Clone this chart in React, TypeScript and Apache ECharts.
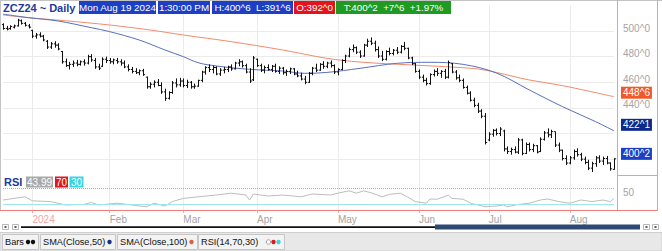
import React, { useEffect, useRef } from "react";
import * as echarts from "echarts";

const FONT = "'Liberation Sans', Arial, Helvetica, sans-serif";

// ---- trading days (categories) ----
const dec23 = [19, 20, 21, 22, 26, 27, 28, 29];
const jan24 = [2, 3, 4, 5, 8, 9, 10, 11, 12, 16, 17, 18, 19, 22, 23, 24, 25, 26, 29, 30, 31];
const feb24 = [1, 2, 5, 6, 7, 8, 9, 12, 13, 14, 15, 16, 20, 21, 22, 23, 26, 27, 28, 29];
const mar24 = [1, 4, 5, 6, 7, 8, 11, 12, 13, 14, 15, 18, 19, 20, 21, 22, 25, 26, 27, 28];
const apr24 = [1, 2, 3, 4, 5, 8, 9, 10, 11, 12, 15, 16, 17, 18, 19, 22, 23, 24, 25, 26, 29, 30];
const may24 = [1, 2, 3, 6, 7, 8, 9, 10, 13, 14, 15, 16, 17, 20, 21, 22, 23, 24, 28, 29, 30, 31];
const jun24 = [3, 4, 5, 6, 7, 10, 11, 12, 13, 14, 17, 18, 20, 21, 24, 25, 26, 27, 28];
const jul24 = [1, 2, 3, 5, 8, 9, 10, 11, 12, 15, 16, 17, 18, 19, 22, 23, 24, 25, 26, 29, 30, 31];
const aug24 = [1, 2, 5, 6, 7, 8, 9, 12, 13, 14, 15, 16, 19];

const monthNames = ["Jan", "Feb", "Mar", "Apr", "May", "Jun", "Jul", "Aug", "Sep", "Oct", "Nov", "Dec"];
const dayNames = ["Sun", "Mon", "Tue", "Wed", "Thu", "Fri", "Sat"];

// ---- OHLC (cents/bushel) ----
const opens = [
  505, 502, 502, 503, 504, 508, 506, 504, 500.5, 496,
  497, 496, 492, 487.5, 490, 489, 484, 476, 473, 474,
  475, 474, 476, 475, 480, 477, 472, 472.5, 478, 477,
  476, 477, 476, 475, 472, 470, 468.5, 467.5, 469, 464,
  456.5, 458.5, 460, 457.5, 452.5, 447.5, 452, 459.5, 458, 461,
  457.5, 460, 456.5, 457, 461.5, 468, 471.5, 470, 471.5, 466.5,
  469.5, 470, 472, 470.5, 475, 476, 473, 468, 462, 478,
  473, 469.5, 471.5, 470, 472.5, 468.5, 471, 467.5, 468.5, 470.5,
  466.5, 465, 462.5, 460, 467, 471, 469.5, 474, 472.5, 475,
  473, 468, 470, 477, 480.5, 485.5, 487, 483.5, 480.5, 489,
  492, 490.5, 485.5, 480.5, 478, 484, 482.5, 485, 483.5, 488,
  486.5, 479, 474.5, 468.5, 464, 461.5, 459, 466, 468.5, 467,
  468.5, 464, 474.5, 468, 463.5, 461.5, 456, 451.5, 446, 442,
  437.5, 433.5, 415, 419.5, 422.5, 420, 422, 408, 406, 407.5,
  405.5, 415, 404.5, 411.5, 407.5, 410.5, 406, 415.5, 420.5, 419,
  421.5, 411, 407, 400.5, 397, 401, 406, 403.5, 400, 397.5,
  393, 396.5, 401, 398.5, 400.5, 397, 392,
];
const highs = [
  506, 504, 504.5, 505, 509.5, 509, 507, 505.5, 501, 498.5,
  499, 497, 493, 491.5, 492, 490.5, 484.5, 478.5, 476, 477,
  477.5, 477, 478, 481.5, 482, 479, 474.5, 479.5, 480, 479,
  478.5, 479, 478, 477, 474, 472, 471, 470, 470.5, 464.5,
  460, 461.5, 462.5, 460, 455, 453, 461, 463, 463.5, 463,
  462, 461, 459, 462, 469, 472.5, 474, 473, 472.5, 471,
  472, 473, 474, 476, 478, 477, 474.5, 471, 480.5, 478.5,
  474.5, 473, 474, 473.5, 474.5, 472.5, 472, 470, 471.5, 471,
  469, 467.5, 465, 468, 472, 474.5, 475, 476.5, 476, 477,
  474, 471, 478, 481.5, 487, 489.5, 488, 485, 490, 494,
  495, 492.5, 488, 484.5, 485, 487, 486, 487.5, 489, 491.5,
  487, 480, 475, 470, 466, 463.5, 467, 470, 471, 469.5,
  470.5, 477, 475, 469.5, 466, 463, 457.5, 453, 448, 444,
  439, 436, 421, 423.5, 424, 425, 423, 410, 409, 410,
  416.5, 416, 413, 413, 412, 411, 417, 422, 424, 423,
  421.5, 413, 407.5, 403, 402.5, 407.5, 408.5, 405, 402, 399.5,
  398, 402.5, 403, 402, 402.5, 397.5, 400.75,
];
const lows = [
  501, 500.5, 501, 502, 503.5, 505, 503.5, 502, 494.5, 494,
  495, 492, 486, 486, 487, 485, 474.5, 472, 470, 472,
  472.5, 473, 473, 474, 476, 470.5, 469.5, 472, 475, 474.5,
  474, 474.5, 473, 471, 468.5, 467, 466.5, 465.5, 465, 455,
  455, 456, 457, 451, 445.5, 446.5, 451, 456, 456.5, 456,
  455.5, 455, 455, 456.5, 460, 466, 468, 467, 465.5, 465,
  467, 468, 469, 470, 472.5, 471.5, 467, 459.5, 461, 472,
  468, 467, 469, 468, 467.5, 466.5, 466, 465, 466.5, 465.5,
  464, 461.5, 458.5, 459.5, 465.5, 468, 469, 470.5, 471, 471.5,
  466.5, 465.5, 469.5, 475, 479.5, 483.5, 482, 479, 480, 487.5,
  489, 484, 479, 476.5, 477, 481, 481, 482, 482.5, 485,
  478, 473.5, 467.5, 462.5, 460, 457.5, 458, 464.5, 465, 463.5,
  462.5, 463, 467, 462, 460, 455, 450.5, 445, 440.5, 436,
  432, 411.5, 414, 417.5, 418.5, 418, 406, 404, 403.5, 404.5,
  404, 403, 404, 406, 405.5, 404.5, 405.5, 414.5, 417, 416.5,
  409.5, 405.5, 399, 395.5, 396, 399.5, 402, 398.5, 396, 391.5,
  390, 394, 397, 395.5, 396, 391, 391.75,
];
const closes = [
  502, 501.5, 503.5, 504, 508.5, 506, 504.5, 503, 496, 497,
  496, 493, 487.5, 490, 489, 486, 476, 473, 474, 475,
  474, 476, 475, 480, 477.5, 472, 471, 478, 477, 476,
  477.5, 476, 475, 472, 470, 468.5, 467.5, 469, 466, 456.5,
  458.5, 460, 457.5, 452.5, 447.5, 452, 459.5, 458, 461, 457.5,
  460, 456.5, 457, 461.5, 468, 471.5, 470, 471.5, 466.5, 469.5,
  470, 472, 470.5, 475, 476, 473, 468, 461, 479, 473,
  469.5, 471.5, 470, 472.5, 468.5, 471, 467.5, 468.5, 470.5, 466.5,
  465, 462.5, 460, 467, 471, 469.5, 474, 472.5, 475, 473,
  468, 470, 477, 480.5, 485.5, 487, 483.5, 480.5, 489, 492,
  490.5, 485.5, 480.5, 478, 484, 482.5, 485, 483.5, 488, 486.5,
  479, 474.5, 468.5, 464, 461.5, 459, 466, 468.5, 467, 468.5,
  464, 475.5, 468, 463.5, 461.5, 456, 451.5, 446, 442, 437.5,
  433.5, 413, 419.5, 422.5, 420, 423.5, 408, 406, 407.5, 405.5,
  415, 404.5, 411.5, 407.5, 410.5, 405.5, 415.5, 420.5, 419, 421.5,
  411, 407, 400.5, 397, 401, 406, 403.5, 400, 397.5, 393,
  396.5, 401, 398.5, 400.5, 397, 392.5, 400.25,
];

// ---- moving averages: [day index, value] ----
const sma50 = [
  [0, 513.2], [7, 510.4], [15, 507.8], [24, 502.6], [29, 499.5], [37, 493], [44, 485.2],
  [49, 480], [53, 475.3], [58, 472.7], [67, 470.1], [76, 468.8], [82, 467], [88, 467.7],
  [97, 470.9], [107, 474.8], [116, 475.6], [125, 474], [134, 467.3], [143, 454],
  [152, 441], [161, 429.3], [166, 422.125],
];
const sma100 = [
  [0, 512.5], [7, 510.4], [17, 508], [29, 504.7], [40, 500.8], [49, 496.9], [62, 491.7],
  [76, 485.2], [88, 478.7], [97, 475.8], [111, 473.5], [120, 472.2], [129, 470.4],
  [134, 467.7], [143, 461.8], [152, 457.4], [166, 448.75],
];

// ---- RSI(14): [day index, value] ----
const rsi = [
  [0, 40], [3, 44], [6, 48], [8, 38], [13, 36], [17, 27.5], [22, 29], [24, 34], [26, 27.5],
  [31, 32], [35, 27.5], [39, 23], [41, 32], [44, 25], [46, 36], [49, 44], [53, 48],
  [58, 52.5], [62, 57], [66, 52.5], [67, 40], [68, 55], [72, 50], [76, 52.5], [81, 48],
  [84, 55], [89, 52.5], [91, 57], [94, 63], [96, 57], [98, 63], [100, 58], [103, 48],
  [105, 54], [108, 57], [110, 47], [112, 36], [115, 32], [116, 42.5], [118, 42], [121, 52],
  [122, 44], [125, 42], [127, 32], [131, 23], [134, 25], [136, 27.5], [137, 23], [140, 29],
  [143, 32], [146, 40], [148, 42.5], [151, 36], [154, 32], [157, 40], [160, 36], [163, 40],
  [165, 36], [166, 43.99],
];
const rsiUpper = 70;
const rsiLower = 30;

// axis labels visible (400 and 420 sit under the last-value boxes)
const priceTicks = [440, 460, 480, 500];

// ---- derived ----
const blocks = [
  { y: 2023, m: 12, days: dec23 },
  { y: 2024, m: 1, days: jan24 },
  { y: 2024, m: 2, days: feb24 },
  { y: 2024, m: 3, days: mar24 },
  { y: 2024, m: 4, days: apr24 },
  { y: 2024, m: 5, days: may24 },
  { y: 2024, m: 6, days: jun24 },
  { y: 2024, m: 7, days: jul24 },
  { y: 2024, m: 8, days: aug24 },
];
const pad = (n: number) => (n < 10 ? "0" + n : "" + n);
const categories: string[] = [];
const monthStart: Record<number, string> = {};
blocks.forEach((b, bi) => {
  b.days.forEach((d, di) => {
    if (di === 0 && bi > 0) monthStart[categories.length] = b.m === 1 ? String(b.y) : monthNames[b.m - 1];
    categories.push(`${b.y}-${pad(b.m)}-${pad(d)}`);
  });
});
const isMonthStart = (i: number) => monthStart[i] !== undefined;

const fmt8 = (v: number) => {
  const w = Math.floor(v + 1e-9);
  const e = Math.round((v - w) * 8);
  return `${w}^${e}`;
};

const N = closes.length;
const lastO = opens[N - 1];
const lastH = highs[N - 1];
const lastL = lows[N - 1];
const lastC = closes[N - 1];
const prevC = closes[N - 2];
const chg = lastC - prevC;
const pct = ((chg / prevC) * 100).toFixed(2);
const lastDate = categories[N - 1];
const [ly, lm, ld] = lastDate.split("-").map(Number);
const dateText = `${dayNames[new Date(Date.UTC(ly, lm - 1, ld)).getUTCDay()]} ${monthNames[lm - 1]} ${ld} ${ly}`;

const ohlcData = closes.map((c, i) => [i, opens[i], highs[i], lows[i], c]);
const closeLine = closes.map((c, i) => [i, c]);

const BLUE = "#1d3fc6";
const NAVY = "#0b2a8a";
const RED = "#e3141b";
const GREEN = "#1f9a22";
const ORANGE = "#f2592a";
const PINK = "#f29a9a";
const GRID = "#ebebeb";
const LABEL = "#a4a4a4";

function buildGraphics() {
  const els: any[] = [];
  const rect = (x: number, y: number, w: number, h: number, fill: string, stroke?: string, z = 100) => ({
    type: "rect",
    silent: true,
    z,
    shape: { x, y, width: w, height: h },
    style: { fill, stroke: stroke || null, lineWidth: stroke ? 1 : 0 },
  });
  const txt = (x: number, y: number, t: string, o: any = {}, z = 101) => ({
    type: "text",
    silent: true,
    z,
    x,
    y,
    style: {
      text: t,
      fontFamily: FONT,
      fontSize: 10,
      fill: "#fff",
      align: "center",
      verticalAlign: "middle",
      ...o,
    },
  });
  const ln = (x1: number, y1: number, x2: number, y2: number, stroke: string, lw = 1, z = 90) => ({
    type: "line",
    silent: true,
    z,
    shape: { x1, y1, x2, y2 },
    style: { stroke, lineWidth: lw },
  });

  // frame lines
  els.push(ln(0, 0.5, 662, 0.5, "#c4c4c4"));
  els.push(ln(0.5, 0, 0.5, 211, "#c4c4c4"));
  els.push(ln(617.5, 0, 617.5, 211, PINK));
  els.push(ln(657.5, 0, 657.5, 211, PINK));
  els.push(ln(618, 175.5, 657, 175.5, PINK));
  els.push(ln(0, 210.5, 657.5, 210.5, "#f07c7c"));

  // header
  els.push(txt(3, 7.5, "ZCZ24 ~ Daily", { fill: "#1c3a9c", fontWeight: "bold", fontSize: 11, align: "left" }));
  const boxes = [
    { x: 79, w: 77, fill: BLUE, t: dateText },
    { x: 158, w: 52, fill: BLUE, t: "1:30:00 PM" },
    { x: 212, w: 81, fill: BLUE, t: `H:${fmt8(lastH)}  L:${fmt8(lastL)}` },
    { x: 294, w: 41, fill: RED, t: `O:${fmt8(lastO)}` },
    { x: 336, w: 115, fill: GREEN, t: `T:${fmt8(lastC)}  +${fmt8(chg)}  +${pct}%` },
  ];
  boxes.forEach((b) => {
    els.push(rect(b.x, 1, b.w, 13, b.fill));
    els.push(txt(b.x + b.w / 2, 7.8, b.t, { fontSize: 9.8 }));
  });

  // RSI header
  const rsiLast = rsi[rsi.length - 1][1];
  els.push(txt(4, 182, "RSI", { fill: "#1c3a9c", fontWeight: "bold", fontSize: 11, align: "left" }));
  els.push(rect(26, 176.5, 27, 11, "#a9a9a9"));
  els.push(txt(39.5, 182.2, rsiLast.toFixed(2)));
  els.push(rect(55, 176.5, 13, 11, "#e3141b"));
  els.push(txt(61.5, 182.2, String(rsiUpper)));
  els.push(rect(69.5, 176.5, 14, 11, "#37d4e6"));
  els.push(txt(76.5, 182.2, String(rsiLower)));

  // scrollbar
  els.push(rect(2.5, 224.5, 6, 5, "#fff", "#b8b8b8"));
  els.push(rect(4.5, 226.2, 2, 1.6, "#333"));
  els.push(rect(12.5, 224.5, 6, 5, "#fff", "#b8b8b8"));
  els.push(rect(14.5, 226.2, 2, 1.6, "#333"));
  els.push(rect(21, 226.3, 414, 1.6, "#111"));
  els.push(rect(435, 224.5, 205, 5, "#2c4a72"));
  els.push(rect(643.5, 224.5, 6, 5, "#fff", "#b8b8b8"));
  els.push(rect(645.5, 226.2, 2, 1.6, "#333"));
  els.push(rect(652.5, 224.5, 6, 5, "#fff", "#b8b8b8"));
  els.push(rect(654.5, 226.2, 2, 1.6, "#333"));

  // bottom toolbar
  els.push(rect(0, 232.5, 662, 18.5, "#e8e8e8", "#cfcfcf"));
  const tabs = [
    { x: 2.5, w: 36 },
    { x: 40.5, w: 75 },
    { x: 117.5, w: 80 },
    { x: 198.5, w: 86 },
  ];
  tabs.forEach((t) => els.push(rect(t.x, 234.5, t.w, 15, "#f3f3f3", "#c6c6c6")));
  const dark = { fill: "#111", align: "left", fontSize: 9.2 };
  els.push(txt(5, 242.3, "Bars", dark));
  els.push(txt(43, 242.3, "SMA(Close,50)", dark));
  els.push(txt(120, 242.3, "SMA(Close,100)", dark));
  els.push(txt(201, 242.3, "RSI(14,70,30)", dark));
  const dot = (cx: number, fill: string, stroke?: string) => ({
    type: "circle",
    silent: true,
    z: 102,
    shape: { cx, cy: 242, r: 2.2 },
    style: { fill, stroke: stroke || null, lineWidth: stroke ? 0.8 : 0 },
  });
  els.push(dot(28, "#111"));
  els.push(dot(33, "#111"));
  els.push(dot(109.5, "#1a2f80"));
  els.push(dot(191.5, "#e0603a"));
  els.push(dot(268.5, "#fff", "#888"));
  els.push(dot(273.5, "#e3141b"));
  els.push(dot(278.5, "#37d4e6"));
  return els;
}

function buildOption(): any {
  const xCommon = {
    type: "category",
    data: categories,
    boundaryGap: false,
  };
  return {
    animation: false,
    backgroundColor: "#fff",
    textStyle: { fontFamily: FONT },
    grid: [
      { left: 3, right: 48, top: 5.4, height: 179.4, containLabel: false, outerBoundsMode: "none" },
      { left: 3, right: 48, top: 176, height: 34, containLabel: false, outerBoundsMode: "none" },
    ],
    xAxis: [
      {
        ...xCommon,
        gridIndex: 0,
        axisLine: { show: false },
        axisTick: { show: false },
        axisLabel: { show: false },
        splitLine: { show: true, interval: (i: number) => isMonthStart(i), lineStyle: { color: GRID, width: 1 } },
      },
      {
        ...xCommon,
        gridIndex: 1,
        position: "bottom",
        axisLine: { show: false },
        axisTick: {
          show: true,
          length: 3,
          interval: (i: number) => isMonthStart(i),
          lineStyle: { color: "#f0a8a8" },
        },
        axisLabel: {
          show: true,
          interval: (i: number) => isMonthStart(i),
          formatter: (_v: string, i: number) => {
            const lab = monthStart[i];
            if (!lab) return "";
            return lab === "2024" ? `{yr|${lab}}` : lab;
          },
          align: "left",
          margin: 4,
          color: LABEL,
          fontSize: 10,
          fontFamily: FONT,
          rich: { yr: { color: "#f4a2a2", fontSize: 10, fontFamily: FONT } },
        },
        splitLine: { show: true, interval: (i: number) => isMonthStart(i), lineStyle: { color: GRID, width: 1 } },
      },
    ],
    yAxis: [
      {
        type: "value",
        gridIndex: 0,
        position: "right",
        min: 380,
        max: 520,
        interval: 20,
        axisLine: { show: false },
        axisTick: { show: false },
        axisLabel: {
          formatter: (v: number) => (priceTicks.indexOf(v) >= 0 ? fmt8(v) : ""),
          color: LABEL,
          fontSize: 10,
          fontFamily: FONT,
          margin: 9,
          verticalAlign: "bottom",
          lineHeight: 6,
        },
        splitLine: { show: true, showMinLine: false, showMaxLine: false, lineStyle: { color: GRID, width: 1 } },
      },
      {
        type: "value",
        gridIndex: 1,
        position: "right",
        min: 15,
        max: 100,
        axisLine: { show: false },
        axisTick: { show: false },
        splitLine: { show: false },
        axisLabel: {
          customValues: [50],
          formatter: (v: number) => (v === 50 ? "50" : ""),
          color: LABEL,
          fontSize: 10,
          fontFamily: FONT,
          margin: 9,
          verticalAlign: "bottom",
          lineHeight: 8,
        },
      },
    ],
    series: [
      {
        type: "custom",
        name: "Bars",
        xAxisIndex: 0,
        yAxisIndex: 0,
        z: 4,
        encode: { x: 0, y: [1, 2, 3, 4] },
        data: ohlcData,
        renderItem: (_p: any, api: any) => {
          const i = api.value(0);
          const o = api.coord([i, api.value(1)]);
          const h = api.coord([i, api.value(2)]);
          const l = api.coord([i, api.value(3)]);
          const c = api.coord([i, api.value(4)]);
          const x = Math.round(h[0]) + 0.5;
          const style = { stroke: "#111", lineWidth: 1 };
          return {
            type: "group",
            children: [
              { type: "line", shape: { x1: x, y1: h[1], x2: x, y2: l[1] }, style },
              { type: "line", shape: { x1: x - 1.6, y1: o[1], x2: x, y2: o[1] }, style },
              { type: "line", shape: { x1: x, y1: c[1], x2: x + 1.6, y2: c[1] }, style },
            ],
          };
        },
      },
      {
        type: "line",
        name: "SMA(Close,100)",
        xAxisIndex: 0,
        yAxisIndex: 0,
        data: sma100,
        smooth: 0.35,
        symbol: "none",
        z: 3,
        lineStyle: { color: "#f28b6c", width: 1 },
        endLabel: {
          show: true,
          formatter: () => fmt8(sma100[sma100.length - 1][1]),
          backgroundColor: ORANGE,
          color: "#fff",
          fontSize: 10,
          fontFamily: FONT,
          padding: [1, 2, 0, 2],
          lineHeight: 11,
          distance: 7,
          offset: [0, -4],
        },
      },
      {
        type: "line",
        name: "SMA(Close,50)",
        xAxisIndex: 0,
        yAxisIndex: 0,
        data: sma50,
        smooth: 0.35,
        symbol: "none",
        z: 3,
        lineStyle: { color: "#5670bd", width: 1 },
        endLabel: {
          show: true,
          formatter: () => fmt8(sma50[sma50.length - 1][1]),
          backgroundColor: NAVY,
          color: "#fff",
          fontSize: 10,
          fontFamily: FONT,
          padding: [1, 2, 0, 2],
          lineHeight: 11,
          distance: 7,
          offset: [0, -6],
        },
      },
      {
        type: "line",
        name: "Close",
        xAxisIndex: 0,
        yAxisIndex: 0,
        data: closeLine,
        symbol: "none",
        silent: true,
        z: 5,
        lineStyle: { color: "rgba(0,0,0,0)", width: 0 },
        endLabel: {
          show: true,
          formatter: () => fmt8(lastC),
          backgroundColor: BLUE,
          color: "#fff",
          fontSize: 10,
          fontFamily: FONT,
          padding: [1, 2, 0, 2],
          lineHeight: 11,
          distance: 7,
          offset: [0, -5],
        },
      },
      {
        type: "line",
        name: "RSI(14,70,30)",
        xAxisIndex: 1,
        yAxisIndex: 1,
        data: rsi,
        symbol: "none",
        z: 3,
        lineStyle: { color: "#bcbcbc", width: 1 },
        markLine: {
          silent: true,
          symbol: ["none", "none"],
          label: { show: false },
          data: [
            { yAxis: rsiUpper, lineStyle: { color: "#f29090", type: "dotted", width: 1 } },
            { yAxis: rsiLower, lineStyle: { color: "#9fe6ef", type: "solid", width: 1 } },
          ],
        },
      },
    ],
    graphic: { elements: buildGraphics() },
  };
}

export default function App() {
  const ref = useRef<HTMLDivElement>(null);
  useEffect(() => {
    if (!ref.current) return;
    const chart = echarts.init(ref.current, null, { renderer: "svg" });
    chart.setOption(buildOption());
    return () => chart.dispose();
  }, []);
  return (
    <div
      ref={ref}
      style={{ position: "absolute", left: 0, top: 0, width: 662, height: 251, background: "#fff" }}
    />
  );
}
